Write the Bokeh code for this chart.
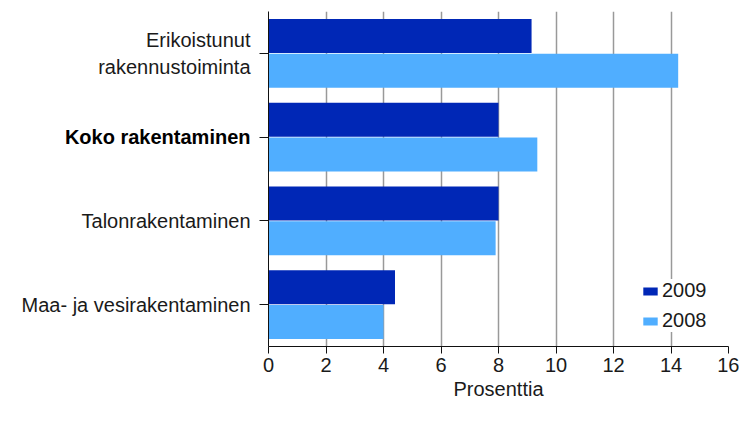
from bokeh.plotting import figure
from bokeh.layouts import row
from bokeh.models import Range1d, Legend, LegendItem, FixedTicker, ColumnDataSource
from bokeh.core.properties import value
from bokeh.embed import file_html
from bokeh.resources import INLINE

# Data (top to bottom in the chart)
categories = ["Erikoistunut\nrakennustoiminta", "Koko rakentaminen", "Talonrakentaminen", "Maa- ja vesirakentaminen"]
values_2009 = [9.15, 8.0, 8.0, 4.4]
values_2008 = [14.25, 9.35, 7.9, 4.0]
series_names = ["2009", "2008"]
x_ticks = [0, 2, 4, 6, 8, 10, 12, 14, 16]
x_title = "Prosenttia"
bold_category = "Koko rakentaminen"

FONT = "Liberation Sans"
C2009 = "#0027B6"
C2008 = "#50AEFF"
TXT = "#1a1a1a"
H = 407
TOP = 11
BOTTOM = 61
LEFT_W = 258

n = len(categories)
pos = [n - i - 0.5 for i in range(n)]  # category centres, top to bottom
slot = 0.416
bar_h = 0.406
src = ColumnDataSource(dict(y09=[y + slot / 2 for y in pos], y08=[y - slot / 2 for y in pos],
                            v2009=values_2009, v2008=values_2008))
lab_src = ColumnDataSource(dict(y=pos, text=categories, x=[1] * n,
                                style=["bold" if c == bold_category else "normal" for c in categories],
                                color=["#000000" if c == bold_category else TXT for c in categories]))

# ---- left panel holding the category labels ----
pl = figure(width=LEFT_W, height=H, x_range=Range1d(0, 1), y_range=Range1d(0, n),
            x_axis_type=None, y_axis_type=None, output_backend="svg", toolbar_location=None,
            min_border_left=0, min_border_right=0, min_border_top=TOP, min_border_bottom=BOTTOM)
pl.outline_line_color = None
pl.grid.grid_line_color = None
pl.text(x="x", y="y", text="text", source=lab_src, x_offset=-8,
        text_align="right", text_baseline="middle", text_font=value(FONT),
        text_font_size="20px", text_font_style="style", text_color="color",
        text_line_height=1.2)

# ---- main chart ----
p = figure(width=739 - LEFT_W, height=H, y_range=Range1d(0, n),
           x_range=Range1d(0, 16), output_backend="svg", toolbar_location=None,
           min_border_left=10, min_border_right=11, min_border_top=TOP, min_border_bottom=BOTTOM)
p.outline_line_color = None
p.background_fill_color = "white"

r1 = p.hbar(y="y09", right="v2009", left=0, height=bar_h,
            source=src, fill_color=C2009, line_color=None)
r2 = p.hbar(y="y08", right="v2008", left=0, height=bar_h,
            source=src, fill_color=C2008, line_color=None)

p.ygrid.grid_line_color = None
p.xgrid.grid_line_color = "#999999"
p.xgrid.grid_line_width = 1.5

p.xaxis.ticker = FixedTicker(ticks=x_ticks)
p.xaxis.minor_tick_line_color = None
p.xaxis.major_tick_out = 7
p.xaxis.major_tick_in = 0
p.xaxis.axis_line_color = "#111111"
p.xaxis.major_tick_line_color = "#111111"
p.xaxis.major_label_text_font = FONT
p.xaxis.major_label_text_font_size = "20px"
p.xaxis.major_label_text_color = TXT
p.xaxis.major_label_standoff = 4
p.xaxis.axis_label = x_title
p.xaxis.axis_label_text_font = FONT
p.xaxis.axis_label_text_font_size = "20px"
p.xaxis.axis_label_text_font_style = "normal"
p.xaxis.axis_label_text_color = TXT
p.xaxis.axis_label_standoff = 3

p.yaxis.ticker = FixedTicker(ticks=pos)
p.yaxis.major_label_overrides = {y: "" for y in pos}
p.yaxis.major_label_text_font_size = "1px"
p.yaxis.major_label_standoff = 0
p.yaxis.axis_line_color = "#111111"
p.yaxis.major_tick_line_color = "#111111"
p.yaxis.major_tick_out = 9
p.yaxis.major_tick_in = 0
p.yaxis.minor_tick_line_color = None

legend = Legend(items=[LegendItem(label=series_names[0], renderers=[r1]),
                       LegendItem(label=series_names[1], renderers=[r2])],
                location=(373, 14), orientation="vertical",
                glyph_width=18, glyph_height=10, label_standoff=3, spacing=7,
                padding=5, margin=0, border_line_color=None,
                background_fill_color="white", background_fill_alpha=1.0,
                label_text_font=FONT, label_text_font_size="20px",
                label_text_color=TXT)
p.add_layout(legend)

layout = row(pl, p, spacing=0)
open("out.html", "w").write(file_html(layout, INLINE))
